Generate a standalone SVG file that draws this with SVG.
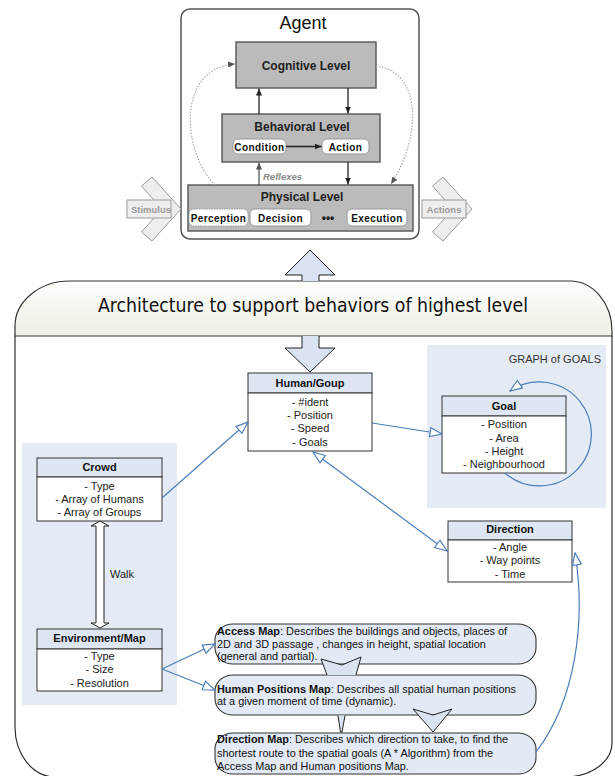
<svg xmlns="http://www.w3.org/2000/svg" width="615" height="776" viewBox="0 0 615 776">
<defs>
<style>
text{font-family:"Liberation Sans",Arial,sans-serif}
.lvl{fill:#bbbbbb;stroke:#555;stroke-width:1.4}
.lvlt{font-size:12px;font-weight:bold;text-anchor:middle;fill:#222}
.pill{fill:#fff;stroke:#999;stroke-width:1}
.pillt{font-size:10px;font-weight:bold;text-anchor:middle;fill:#111;letter-spacing:0.4px}
.chev{fill:#eeeeee;stroke:#9a9a9a;stroke-width:1}
.chevt{font-size:9.5px;font-weight:bold;fill:#9a9a9a;text-anchor:middle}
.panel{fill:#e5ebf5}
.hdr{fill:#dde6f2;stroke:#333;stroke-width:1}
.bdy{fill:#fff;stroke:#333;stroke-width:1}
.ttl{font-size:11px;font-weight:bold;text-anchor:middle;fill:#111}
.att{font-size:11px;text-anchor:middle;fill:#222}
.map{fill:#e3eaf5;stroke:#333;stroke-width:1.1}
.mt{font-size:10.9px;fill:#111}
.blue{fill:none;stroke:#4a7ebb;stroke-width:1.2}
.blk{fill:#d9e3f2;stroke:#222;stroke-width:1}
.ag{fill:none;stroke:#222;stroke-width:1.3}
.dot{fill:none;stroke:#a5a5a5;stroke-width:1.1;stroke-dasharray:1.5 1.5}
.arch{font-family:"DejaVu Sans Condensed","DejaVu Sans","Liberation Sans",sans-serif;font-size:19px;fill:#111}
</style>
<marker id="open" viewBox="-1 -1 14 11" refX="12" refY="4.5" markerWidth="14" markerHeight="11" markerUnits="userSpaceOnUse" orient="auto-start-reverse">
<path d="M0,0 L12,4.5 L0,9 Z" fill="#fff" stroke="#4a7ebb" stroke-width="1.2"/>
</marker>
<marker id="solid" viewBox="0 0 7 6" refX="7" refY="3" markerWidth="7" markerHeight="6" markerUnits="userSpaceOnUse" orient="auto">
<path d="M0,0 L7,3 L0,6 Z" fill="#222"/>
</marker>
<marker id="gsolid" viewBox="0 0 7 6" refX="7" refY="3" markerWidth="7" markerHeight="6" markerUnits="userSpaceOnUse" orient="auto">
<path d="M0,0 L7,3 L0,6 Z" fill="#555"/>
</marker>
<linearGradient id="hg" x1="0" y1="0" x2="0" y2="1">
<stop offset="0" stop-color="#fdfdfb"/>
<stop offset="1" stop-color="#efefe6"/>
</linearGradient>
</defs>

<!-- Agent -->
<g id="agent">
<rect x="181" y="9" width="238" height="230" rx="9" fill="#fff" stroke="#555" stroke-width="1.5"/>
<text x="303" y="29" font-size="18" text-anchor="middle" fill="#111">Agent</text>
</g>
<g id="cognitive">
<rect class="lvl" x="236" y="42" width="140" height="46"/>
<text class="lvlt" x="306" y="70">Cognitive Level</text>
</g>
<g id="behavioral">
<rect class="lvl" x="222" y="114" width="158" height="48"/>
<text class="lvlt" x="302" y="131">Behavioral Level</text>
<rect class="pill" x="233" y="139" width="53" height="15" rx="5"/>
<text class="pillt" x="259.5" y="150.5">Condition</text>
<rect class="pill" x="322" y="139" width="47" height="15" rx="5"/>
<text class="pillt" x="345.5" y="150.5">Action</text>
</g>
<g id="physical">
<rect class="lvl" x="188" y="185" width="225" height="46"/>
<text class="lvlt" x="302" y="201">Physical Level</text>
<rect class="pill" x="189" y="209" width="59" height="17" rx="5" stroke-dasharray="1.5 1"/>
<text class="pillt" x="218.5" y="221.5" letter-spacing="0.2">Perception</text>
<rect class="pill" x="250" y="209" width="61" height="17" rx="5"/>
<text class="pillt" x="280.5" y="221.5">Decision</text>
<text x="328" y="222" font-size="12" font-weight="bold" text-anchor="middle" fill="#222">•••</text>
<rect class="pill" x="347" y="209" width="60" height="17" rx="5"/>
<text class="pillt" x="377" y="221.5">Execution</text>
</g>
<g id="stimulus">
<polygon class="chev" points="152,177 181,209 152,241 141.5,232 162,209 141.5,186"/>
<rect x="127" y="200" width="44" height="18" fill="#eeeeee" stroke="#9a9a9a" stroke-width="1"/>
<text class="chevt" x="151" y="212.5">Stimulus</text>
</g>
<g id="actions">
<polygon class="chev" points="443,177 472,209 443,241 432.5,232 453,209 432.5,186"/>
<rect x="422" y="200" width="44" height="18" fill="#eeeeee" stroke="#9a9a9a" stroke-width="1"/>
<text class="chevt" x="444" y="212.5">Actions</text>
</g>

<!-- Architecture container -->
<g id="architecture">
<path d="M15,336 L15,727 A40,50 0 0 0 55,777 L565,777 A47,34 0 0 0 612,743 L612,336" fill="#fff" stroke="#333" stroke-width="1.2"/>
<path d="M15,336 L15,326 A55,45 0 0 1 70,281 L570,281 A42,50 0 0 1 612,331 L612,336 Z" fill="url(#hg)" stroke="#333" stroke-width="1.2"/>
<text class="arch" x="313" y="312" text-anchor="middle" textLength="430" lengthAdjust="spacingAndGlyphs">Architecture to support behaviors of highest level</text>
</g>

<g id="left-panel"><rect class="panel" x="22" y="443" width="155" height="262"/></g>
<g id="goals-panel">
<rect class="panel" x="427" y="345" width="179" height="163"/>
<text x="601" y="363" font-size="11" text-anchor="end" fill="#333">GRAPH of GOALS</text>
</g>

<g id="crowd">
<rect class="hdr" x="37" y="458" width="125" height="19"/>
<rect class="bdy" x="37" y="477" width="125" height="44"/>
<text class="ttl" x="99.5" y="471">Crowd</text>
<text class="att" x="99.5" y="490">- Type</text>
<text class="att" x="99.5" y="502.5">- Array of Humans</text>
<text class="att" x="99.5" y="515.5">- Array of Groups</text>
</g>
<g id="environment">
<rect class="hdr" x="37" y="629" width="125" height="20"/>
<rect class="bdy" x="37" y="649" width="125" height="42"/>
<text class="ttl" x="99.5" y="642">Environment/Map</text>
<text class="att" x="99.5" y="660">- Type</text>
<text class="att" x="99.5" y="673">- Size</text>
<text class="att" x="99.5" y="687">- Resolution</text>
</g>
<g id="human">
<rect class="hdr" x="248" y="373" width="124" height="20"/>
<rect class="bdy" x="248" y="393" width="124" height="58"/>
<text class="ttl" x="310" y="387">Human/Goup</text>
<text class="att" x="310" y="406">- #ident</text>
<text class="att" x="310" y="419">- Position</text>
<text class="att" x="310" y="432">- Speed</text>
<text class="att" x="310" y="445.5">- Goals</text>
</g>
<g id="goal">
<rect class="hdr" x="442" y="396" width="124" height="20"/>
<rect class="bdy" x="442" y="416" width="124" height="57"/>
<text class="ttl" x="504" y="409.5">Goal</text>
<text class="att" x="504" y="428">- Position</text>
<text class="att" x="504" y="441.5">- Area</text>
<text class="att" x="504" y="455">- Height</text>
<text class="att" x="504" y="468">- Neighbourhood</text>
</g>
<g id="direction">
<rect class="hdr" x="448" y="521" width="124" height="19"/>
<rect class="bdy" x="448" y="540" width="124" height="42"/>
<text class="ttl" x="510" y="533">Direction</text>
<text class="att" x="510" y="551">- Angle</text>
<text class="att" x="510" y="564">- Way points</text>
<text class="att" x="510" y="578">- Time</text>
</g>
<g id="access-map">
<rect class="map" x="215" y="624" width="321" height="40" rx="18" ry="16"/>
<text class="mt" x="217" y="635"><tspan font-weight="bold">Access Map</tspan>: Describes the buildings and objects, places of</text>
<text class="mt" x="217" y="647.5">2D and 3D passage , changes in height, spatial location</text>
<text class="mt" x="217" y="660">(general and partial).</text>
</g>
<g id="human-positions-map">
<rect class="map" x="215" y="675" width="321" height="40" rx="18" ry="16"/>
<text class="mt" x="217" y="693"><tspan font-weight="bold">Human Positions Map</tspan>: Describes all spatial human positions</text>
<text class="mt" x="217" y="705">at a given moment of time (dynamic).</text>
</g>
<g id="direction-map">
<rect class="map" x="215" y="733" width="321" height="41" rx="18" ry="16"/>
<text class="mt" x="217" y="743"><tspan font-weight="bold">Direction Map</tspan>: Describes which direction to take, to  find the</text>
<text class="mt" x="217" y="756.5">shortest route to the spatial goals (A * Algorithm) from the</text>
<text class="mt" x="217" y="769.5">Access Map and Human positions Map.</text>
</g>

<g id="connectors">
<!-- agent internal -->
<line class="ag" x1="259" y1="114" x2="259" y2="88.5" marker-end="url(#solid)"/>
<line class="ag" x1="348" y1="88" x2="348" y2="113.5" marker-end="url(#solid)"/>
<line class="ag" x1="286" y1="146.5" x2="321.5" y2="146.5" marker-end="url(#solid)"/>
<line x1="259" y1="185" x2="259" y2="162.5" stroke="#555" stroke-width="1.3" marker-end="url(#gsolid)"/>
<text x="263" y="180" font-size="9.5" font-weight="bold" font-style="italic" fill="#8a8a8a">Reflexes</text>
<line class="ag" x1="348" y1="162" x2="348" y2="184.5" marker-end="url(#solid)"/>
<path class="dot" d="M215,185 C182,152 176,68 235,64" marker-end="url(#gsolid)"/>
<path class="dot" d="M376,66 C424,72 420,140 391,184" marker-end="url(#gsolid)"/>
<!-- block arrows agent <-> architecture -->
<path class="blk" d="M302,281 L302,275 L285,275 L310,250 L335,275 L319,275 L319,281"/>
<path class="blk" d="M302,336 L302,348 L285,348 L310,372 L335,348 L319,348 L319,336"/>
<!-- walk -->
<path d="M100,521 L109,526 L104,526 L104,623 L109,623 L100,628 L91,623 L96,623 L96,526 L91,526 Z" fill="#fff" stroke="#222" stroke-width="1"/>
<text x="110" y="578" font-size="11" fill="#222">Walk</text>
<!-- blue connectors -->
<line class="blue" x1="162" y1="498" x2="248" y2="422" marker-end="url(#open)"/>
<line class="blue" x1="372" y1="423" x2="442" y2="434" marker-end="url(#open)"/>
<line class="blue" x1="313" y1="452" x2="447" y2="551" marker-start="url(#open)" marker-end="url(#open)"/>
<path class="blue" d="M505,473 A52,52 0 1 0 510,391" marker-end="url(#open)"/>
<line class="blue" x1="162" y1="669" x2="215" y2="644" marker-end="url(#open)"/>
<line class="blue" x1="162" y1="669" x2="215" y2="690" marker-end="url(#open)"/>
<path class="blue" d="M536,752 C576,700 586,620 575,553" marker-end="url(#open)"/>
<!-- block arrows between maps -->
<path class="blk" d="M327,675 L321,659 L342,665 L361,657 L356,675"/>
<path class="blk" d="M338,715.5 L340.5,732 L342,732 L345,715.5"/>
<path class="blk" d="M413,709 L433,715 L452,709 L433,732 Z"/>
</g>
</svg>
